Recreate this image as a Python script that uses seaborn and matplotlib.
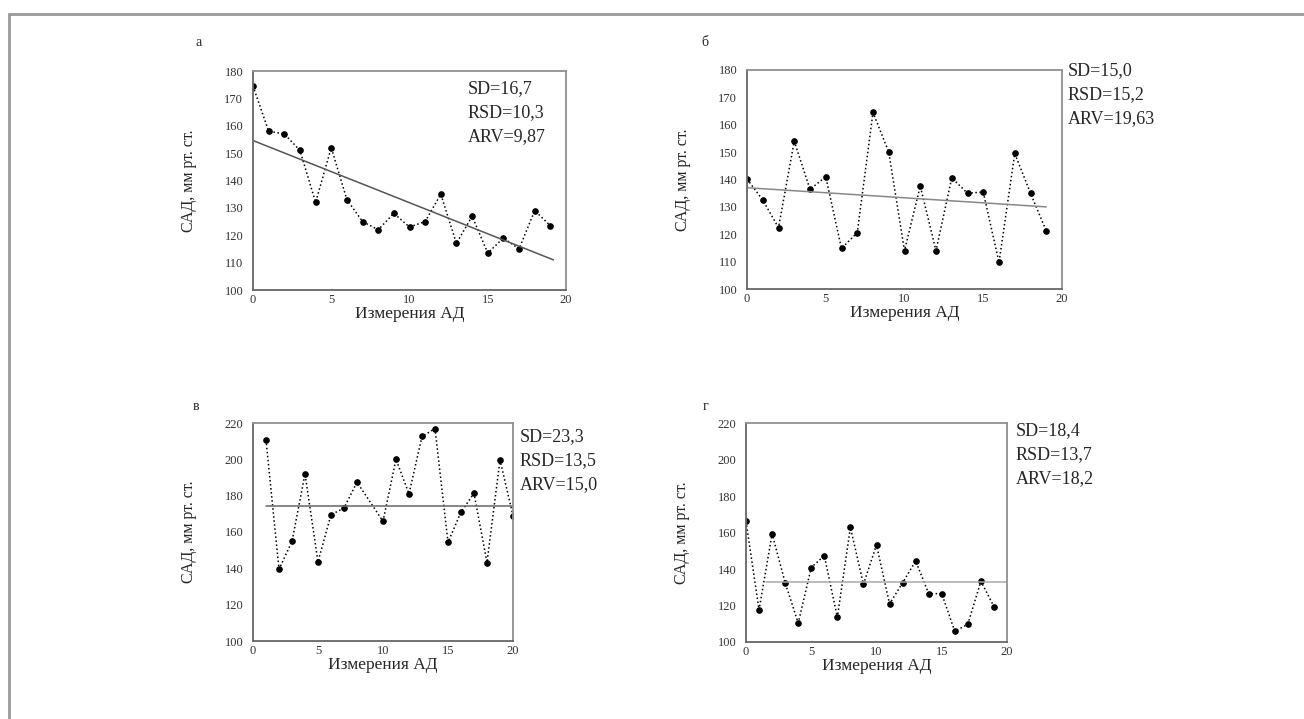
import numpy as np
import pandas as pd
import matplotlib
matplotlib.use('Agg')
import matplotlib.pyplot as plt
import seaborn as sns
from matplotlib.patches import Rectangle

# Данные
x_a = list(range(20))
sad_a = [174.5, 158, 157, 151, 132, 152, 133, 125, 122, 128,
         123, 125, 135, 117, 127, 113.5, 119, 115, 129, 123.5]
trend_a_x = [0, 19.2]
trend_a_y = [154.6, 111.0]
stats_a = ['SD=16,7', 'RSD=10,3', 'ARV=9,87']

x_b = list(range(20))
sad_b = [140.2, 132.5, 122.4, 154, 136.4, 141, 114.8, 120.6, 164.5, 150,
         114, 137.6, 114, 140.6, 135, 135.4, 109.7, 149.5, 135, 121.2]
trend_b_x = [0, 19]
trend_b_y = [137, 130]
stats_b = ['SD=15,0', 'RSD=15,2', 'ARV=19,63']

x_v = [1, 2, 3, 4, 5, 6, 7, 8, 10, 11, 12, 13, 14, 15, 16, 17, 18, 19, 20]
sad_v = [210.8, 139.5, 154.8, 192, 143.6, 169.5, 173.2, 187.4, 165.9, 200,
         181, 212.6, 216.9, 154.3, 171, 181.3, 143.2, 199.7, 169]
trend_v_x = [1, 20]
trend_v_y = [174.5, 174.5]
stats_v = ['SD=23,3', 'RSD=13,5', 'ARV=15,0']

x_g = list(range(20))
sad_g = [166.1, 117.6, 159.3, 132.5, 110.4, 140.8, 147.3, 113.5, 162.8, 131.6,
         153.2, 120.9, 132.4, 144.4, 126.5, 126.5, 105.8, 109.8, 133.3, 119.4]
trend_g_x = [1.5, 20]
trend_g_y = [133, 133]
stats_g = ['SD=18,4', 'RSD=13,7', 'ARV=18,2']

sns.set_style('white')
plt.rcParams['font.family'] = ['Liberation Serif', 'DejaVu Serif']

W, H = 1304, 719
fig = plt.figure(figsize=(W / 100, H / 100), dpi=100)
fig.patches.append(Rectangle((9 / W, -0.1), 1.2, 1 - 14 / H + 0.1, transform=fig.transFigure,
                             fill=False, edgecolor='#999999', linewidth=2))


def px_axes(l, t, r, b):
    return fig.add_axes([l / W, 1 - b / H, (r - l) / W, (b - t) / H])


panels = [
    ('а', (196, 43), (253, 71, 566, 290), x_a, sad_a, trend_a_x, trend_a_y, stats_a,
     (100, 180), np.arange(100, 181, 10), '#555555', (468, 89)),
    ('б', (701, 42), (747, 70, 1062, 289), x_b, sad_b, trend_b_x, trend_b_y, stats_b,
     (100, 180), np.arange(100, 181, 10), '#888888', (1068, 71)),
    ('в', (193, 407), (253, 423, 513, 641), x_v, sad_v, trend_v_x, trend_v_y, stats_v,
     (100, 220), np.arange(100, 221, 20), '#666666', (520, 437)),
    ('г', (703, 407), (746, 423, 1007, 642), x_g, sad_g, trend_g_x, trend_g_y, stats_g,
     (100, 220), np.arange(100, 221, 20), '#aaaaaa', (1016, 431)),
]

for letter, lpos, box, xs, ys, tx, ty, stats, ylim, yticks, tcol, tpos in panels:
    ax = px_axes(*box)
    df = pd.DataFrame({'x': xs, 'y': ys})
    sns.lineplot(data=df, x='x', y='y', ax=ax, color='black', linestyle=':',
                 linewidth=1.1, marker='o', markersize=4, markeredgecolor='black')
    sns.lineplot(x=tx, y=ty, ax=ax, color=tcol, linewidth=1.1)
    ax.set_xlim(0, 20)
    ax.set_ylim(*ylim)
    ax.set_xticks([0, 5, 10, 15, 20])
    ax.set_yticks(yticks)
    ax.tick_params(length=0, labelsize=9, colors='#333333')
    ax.tick_params(axis='x', pad=3)
    ax.tick_params(axis='y', pad=7)
    for s in ax.spines.values():
        s.set_color('#909090')
        s.set_linewidth(1.3)
    ax.spines['left'].set_color('#666666')
    ax.spines['bottom'].set_color('#666666')
    ax.set_xlabel('Измерения АД', fontsize=12.5, labelpad=0)
    ax.set_ylabel('САД, мм рт. ст.', fontsize=11.5, labelpad=20)
    fig.text(lpos[0] / W, 1 - lpos[1] / H, letter, fontsize=10, va='center', ha='left')
    for i, s in enumerate(stats):
        fig.text(tpos[0] / W, 1 - (tpos[1] + i * 24) / H, s, fontsize=13,
                 va='center', ha='left')

fig.savefig('out.png', dpi=100)
